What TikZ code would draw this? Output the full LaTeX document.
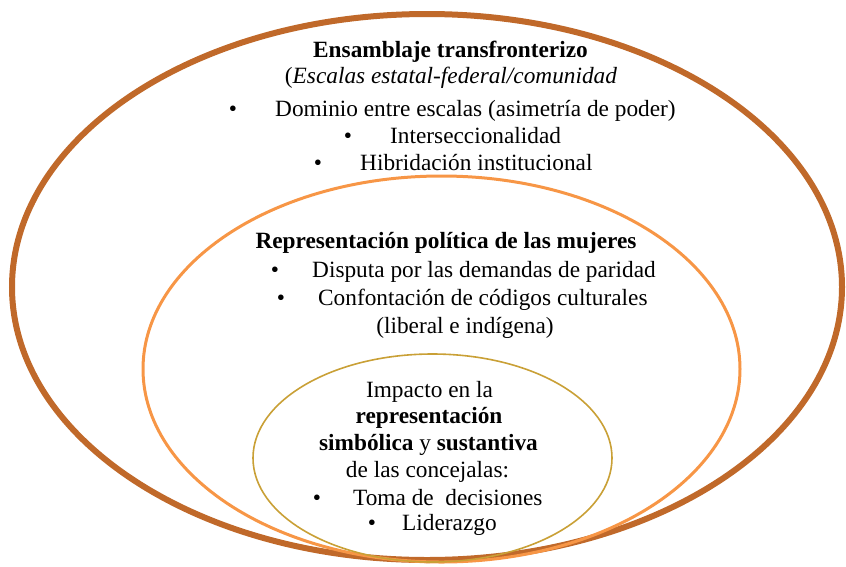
\documentclass[tikz,border=0pt]{standalone}
\usepackage{fontspec}
\setmainfont{Liberation Serif}
\definecolor{outerc}{HTML}{C0692A}
\definecolor{midc}{HTML}{F79646}
\definecolor{innerc}{HTML}{C9A036}
\begin{document}
\begin{tikzpicture}[x=1pt,y=-1pt,
  txt/.style={inner sep=0pt, font=\fontsize{23.3}{26}\selectfont, anchor=base},
  txtw/.style={txt, anchor=base west},
  bul/.style={txt, anchor=base}]
\useasboundingbox (0,0) rectangle (846,566);
% ellipses
\draw[outerc, line width=6pt] (427,287) ellipse [x radius=415, y radius=273];
\draw[midc, line width=3pt] (441.5,369) ellipse [x radius=298.5, y radius=193];
\draw[innerc, line width=1.6pt] (432.5,458) ellipse [x radius=179.5, y radius=104];
% outer texts
\node[txt] (t1) at (450.5,57) {\bfseries Ensamblaje transfronterizo};
\node[txt] (t2) at (451,83) {(\textit{Escalas estatal-federal/comunidad}};
\node[bul] (b1) at (233,116) {\textbullet};
\node[txtw] (t3) at (275,116) {Dominio entre escalas (asimetría de poder)};
\node[bul] (b2) at (348,143) {\textbullet};
\node[txtw] (t4) at (390,143) {Interseccionalidad};
\node[bul] (b3) at (318,170) {\textbullet};
\node[txtw] (t5) at (360,170) {Hibridación institucional};
% middle texts
\node[txt] (m1) at (446,248) {\bfseries Representación política de las mujeres};
\node[bul] (b4) at (275,277) {\textbullet};
\node[txtw] (m2) at (312,277) {Disputa por las demandas de paridad};
\node[bul] (b5) at (281,305) {\textbullet};
\node[txtw] (m3) at (318,305) {Confontación de códigos culturales};
\node[txt] (m4) at (465,333) {(liberal e indígena)};
% inner texts
\node[txt] (i1) at (429.5,397) {Impacto en la};
\node[txt] (i2) at (429,423) {\bfseries representación};
\node[txt] (i3) at (428.5,450) {\textbf{simbólica} y \textbf{sustantiva}};
\node[txt] (i4) at (427.5,477) {de las concejalas:};
\node[bul] (b6) at (317,505) {\textbullet};
\node[txtw] (i5) at (353,505) {Toma de\ \ decisiones};
\node[bul] (b7) at (372,530) {\textbullet};
\node[txtw] (i6) at (402,530) {Liderazgo};
\end{tikzpicture}
\end{document}
